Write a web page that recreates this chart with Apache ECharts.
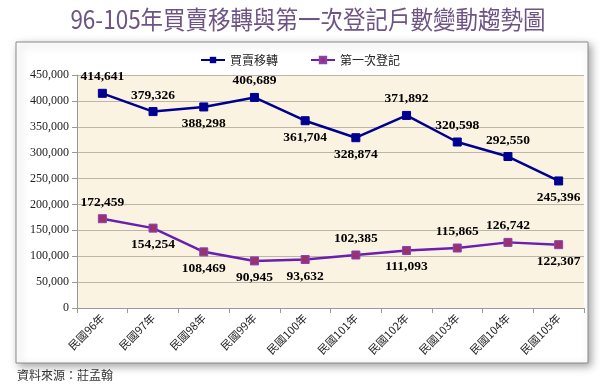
<!DOCTYPE html>
<html>
<head>
<meta charset="utf-8">
<script src="https://cdn.jsdelivr.net/npm/echarts@6/dist/echarts.min.js"></script>
<style>html,body{margin:0;padding:0;background:#fff;}#c{width:600px;height:388px;}</style>
</head>
<body>
<div id="c"></div>
<script>
const categories = ['民國96年','民國97年','民國98年','民國99年','民國100年','民國101年','民國102年','民國103年','民國104年','民國105年'];
const buySell = [414641, 379326, 388298, 406689, 361704, 328874, 371892, 320598, 292550, 245396];
const firstReg = [172459, 154254, 108469, 90945, 93632, 102385, 111093, 115865, 126742, 122307];
const seriesNames = ['買賣移轉', '第一次登記'];
const titleText = '96-105年買賣移轉與第一次登記戶數變動趨勢圖';
const sourceText = '資料來源：莊孟翰';

const buyPos = ['top','top','bottom','top','bottom','bottom','top','top','top','bottom'];
const firstPos = ['top','bottom','bottom','bottom','bottom','top','bottom','top','top','bottom'];

const labelStyle = {
  show: true,
  fontFamily: '"Liberation Serif", "Times New Roman", serif',
  fontWeight: 'bold',
  fontSize: 13.5,
  color: '#000',
  distance: 5,
  formatter: p => p.value.toLocaleString('en-US')
};

function withPos(vals, pos) {
  return vals.map((v, i) => ({ value: v, label: { position: pos[i] } }));
}

const chart = echarts.init(document.getElementById('c'), null, { renderer: 'canvas' });
chart.setOption({
  backgroundColor: '#fff',
  animation: false,
  graphic: [
    {
      type: 'rect', z: -10,
      shape: { x: 16, y: 42, width: 572, height: 321 },
      style: { fill: '#fff', stroke: '#8a8a8a', lineWidth: 1, shadowBlur: 8, shadowOffsetX: 3, shadowOffsetY: 3, shadowColor: 'rgba(0,0,0,0.35)' }
    },
    {
      type: 'text', x: 308, y: 7, scaleX: 0.9,
      style: { x: 0, y: 0, text: titleText, fill: '#6e5485', textAlign: 'center', textVerticalAlign: 'top', font: '25px "Noto Sans CJK TC", sans-serif' }
    },
    {
      type: 'text', left: 17, top: 369,
      style: { text: sourceText, fill: '#333', font: '12px "Noto Sans CJK TC", sans-serif' }
    }
  ],
  legend: {
    top: 49,
    left: 'center',
    itemWidth: 24,
    itemHeight: 8,
    itemGap: 32,
    textStyle: { fontFamily: '"Noto Sans CJK TC", sans-serif', fontSize: 12, color: '#222' },
    data: seriesNames
  },
  grid: { left: 77, right: 16, top: 75, bottom: 80, show: true, backgroundColor: '#fbf3e2', borderWidth: 0 },
  xAxis: {
    type: 'category',
    data: categories,
    boundaryGap: true,
    axisLine: { lineStyle: { color: '#999' } },
    axisTick: { show: true, lineStyle: { color: '#999' }, length: 5 },
    axisLabel: { rotate: 45, fontSize: 11, color: '#222', fontFamily: '"Noto Sans CJK TC", serif', margin: 8 }
  },
  yAxis: {
    type: 'value',
    min: 0, max: 450000, interval: 50000,
    axisLine: { show: true, lineStyle: { color: '#999' } },
    axisTick: { show: true, lineStyle: { color: '#999' }, length: 5 },
    splitLine: { lineStyle: { color: '#bdb5a5', width: 1 } },
    axisLabel: {
      fontFamily: '"Liberation Serif", "Times New Roman", serif',
      fontSize: 12, color: '#222', margin: 8,
      formatter: v => v.toLocaleString('en-US')
    }
  },
  series: [
    {
      name: seriesNames[0], type: 'line',
      data: withPos(buySell, buyPos),
      symbol: 'rect', symbolSize: 8,
      lineStyle: { color: '#000090', width: 2.5 },
      itemStyle: { color: '#000090', borderColor: '#000090' },
      label: labelStyle
    },
    {
      name: seriesNames[1], type: 'line',
      data: withPos(firstReg, firstPos),
      symbol: 'rect', symbolSize: 8,
      lineStyle: { color: '#6a1fb0', width: 2.5 },
      itemStyle: { color: '#99336b', borderColor: '#8a3fc0', borderWidth: 1 },
      label: labelStyle
    }
  ]
});
</script>
</body>
</html>
